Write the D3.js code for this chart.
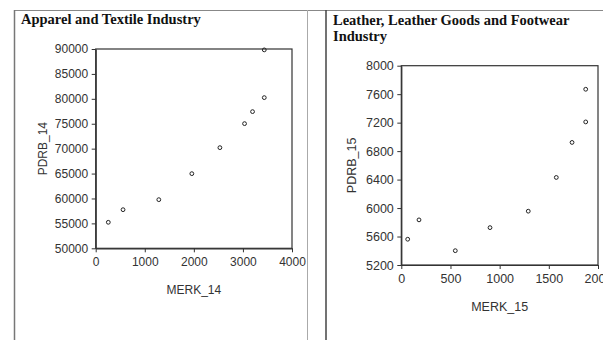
<!DOCTYPE html>
<html><head><meta charset="utf-8">
<script src="https://cdn.jsdelivr.net/npm/d3@7"></script>
<style>body{margin:0;background:#fff}svg{display:block}</style>
</head><body>
<script>
// Panel 1: Apparel and Textile Industry
const merk14 = [257, 557, 1286, 1959, 2531, 3033, 3196, 3435, 3435];
const pdrb14 = [55220, 57750, 59760, 64980, 70200, 75020, 77430, 80240, 89820];
const xTicks14 = [0, 1000, 2000, 3000, 4000];
const yTicks14 = [50000, 55000, 60000, 65000, 70000, 75000, 80000, 85000, 90000];
// Panel 2: Leather, Leather Goods and Footwear Industry
const merk15 = [65, 180, 549, 902, 1291, 1576, 1736, 1875, 1875];
const pdrb15 = [5562, 5834, 5401, 5725, 5956, 6430, 6922, 7210, 7669];
const xTicks15 = [0, 500, 1000, 1500, 2000];
const yTicks15 = [5200, 5600, 6000, 6400, 6800, 7200, 7600, 8000];

const W = 603, H = 340;
const svg = d3.select("body").append("svg").attr("width", W).attr("height", H);

// table borders
svg.append("line").attr("x1", 14).attr("x2", W).attr("y1", 10.5).attr("y2", 10.5).attr("stroke", "#888");
svg.append("line").attr("x1", 14.5).attr("x2", 14.5).attr("y1", 10).attr("y2", H).attr("stroke", "#777").attr("stroke-width", 1.5);
svg.append("line").attr("x1", 307.5).attr("x2", 307.5).attr("y1", 10).attr("y2", H).attr("stroke", "#aaa");
svg.append("line").attr("x1", 326).attr("x2", 326).attr("y1", 10).attr("y2", H).attr("stroke", "#444").attr("stroke-width", 1.5);

function panel(cfg) {
  const g = svg.append("g");
  const x = d3.scaleLinear().domain(cfg.xDom).range([cfg.x0, cfg.x1]);
  const y = d3.scaleLinear().domain(cfg.yDom).range([cfg.y0, cfg.y1]);
  g.append("rect").attr("x", cfg.x0).attr("y", cfg.y1)
    .attr("width", cfg.x1 - cfg.x0).attr("height", cfg.y0 - cfg.y1)
    .attr("fill", "none").attr("stroke", "#333").attr("stroke-width", 1.2);
  const ax = g.append("g").attr("transform", `translate(0,${cfg.y0})`)
    .call(d3.axisBottom(x).tickValues(cfg.xTicks).tickSize(4).tickSizeOuter(0).tickPadding(5).tickFormat(d3.format("d")));
  const ay = g.append("g").attr("transform", `translate(${cfg.x0},0)`)
    .call(d3.axisLeft(y).tickValues(cfg.yTicks).tickSize(4).tickSizeOuter(0).tickPadding(3.5).tickFormat(d3.format("d")));
  [ax, ay].forEach(a => {
    a.select(".domain").attr("stroke", "#333").attr("stroke-width", 1.2);
    a.selectAll(".tick line").attr("stroke", "#333");
    a.selectAll("text").attr("fill", "#333").attr("font-family", "Liberation Sans, Arial, sans-serif").attr("font-size", cfg.fs);
  });
  g.selectAll("circle.pt").data(cfg.xs).join("circle").attr("class", "pt")
    .attr("cx", (d, i) => x(d)).attr("cy", (d, i) => y(cfg.ys[i]))
    .attr("r", 1.9).attr("fill", "none").attr("stroke", "#222").attr("stroke-width", 1);
  g.append("text").attr("x", (cfg.x0 + cfg.x1) / 2).attr("y", cfg.xlabY)
    .attr("text-anchor", "middle").attr("font-family", "Liberation Sans, Arial, sans-serif")
    .attr("font-size", cfg.fs).attr("fill", "#333").text(cfg.xlab);
  g.append("text").attr("transform", `translate(${cfg.ylabX},${(cfg.y0 + cfg.y1) / 2}) rotate(-90)`)
    .attr("text-anchor", "middle").attr("font-family", "Liberation Sans, Arial, sans-serif")
    .attr("font-size", cfg.fs).attr("fill", "#333").text(cfg.ylab);
  cfg.title.forEach((t, i) => {
    g.append("text").attr("x", cfg.tx).attr("y", cfg.ty + i * 16)
      .attr("font-family", "Liberation Serif, Times New Roman, serif").attr("font-weight", "bold")
      .attr("font-size", 14.5).attr("fill", "#111").text(t);
  });
}

panel({
  xs: merk14, ys: pdrb14, xDom: [0, 4000], yDom: [50000, 90000],
  xTicks: xTicks14, yTicks: yTicks14,
  x0: 95.7, x1: 292, y0: 248.3, y1: 49,
  fs: 12, xlab: "MERK_14", ylab: "PDRB_14", xlabY: 294, ylabX: 47,
  title: ["Apparel and Textile Industry"], tx: 21, ty: 24
});
panel({
  xs: merk15, ys: pdrb15, xDom: [0, 2000], yDom: [5200, 8000],
  xTicks: xTicks15, yTicks: yTicks15,
  x0: 401.3, x1: 598, y0: 265, y1: 65.7,
  fs: 12.5, xlab: "MERK_15", ylab: "PDRB_15", xlabY: 311, ylabX: 356,
  title: ["Leather, Leather Goods and Footwear", "Industry"], tx: 333, ty: 25
});
</script>
</body></html>
